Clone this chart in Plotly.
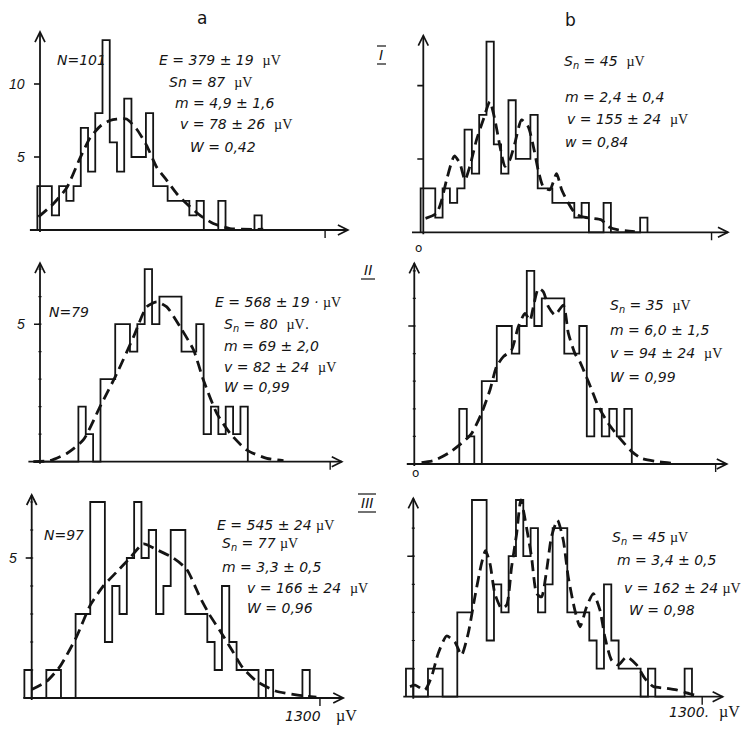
import plotly.graph_objects as go

WIN_W, WIN_H = 749, 731
OFF = 8  # default page margin of the html body
W, H = WIN_W - OFF, WIN_H - OFF

# ---------------- data ----------------
BIN_WIDTH_UV = 33  # histogram bin width, µV

# histograms (same record shown in column a and column b of each row)
row1_bin_start = -12
row1_counts = [3, 3, 1, 3, 2, 3, 7, 4, 8, 13, 6, 4, 9, 5, 5, 8, 3, 3, 2, 2, 2, 1, 2, 0, 0, 2, 0, 0, 0, 0, 1]
row2_bin_start = -26
row2_counts = [0, 0, 0, 0, 0, 0, 2, 1, 0, 3, 3, 5, 5, 4, 5, 7, 5, 6, 6, 6, 4, 4, 5, 1, 2, 1, 2, 1, 2]
row3_bin_start = -33
row3_counts = [1, 0, 0, 1, 1, 0, 0, 3, 3, 7, 7, 2, 4, 3, 5, 7, 5, 6, 3, 4, 6, 6, 3, 3, 3, 2, 1, 4, 2, 1,
               1, 1, 0, 1, 0, 0, 0, 0, 1]

# fitted curves, column a
curve_a1_x = [-7, 61, 122, 182, 228, 274, 319, 350, 395, 441, 486, 532, 578, 623, 669, 730, 790, 866, 1018]
curve_a1_y = [0.9, 1.8, 2.9, 4.9, 6.3, 7.1, 7.5, 7.6, 7.6, 6.9, 5.8, 4.3, 3.4, 2.5, 1.8, 1.0, 0.45, 0.1, 0.05]
curve_a2_x = [-30, 45, 120, 194, 269, 344, 419, 478, 523, 568, 628, 688, 732, 792, 852, 927, 1016, 1091]
curve_a2_y = [0, 0.04, 0.3, 0.79, 2.0, 3.2, 4.54, 5.63, 5.81, 5.63, 4.9, 4.06, 2.97, 1.76, 1.03, 0.42, 0.12, 0.04]
curve_a3_x = [0, 68, 128, 203, 263, 323, 383, 443, 503, 563, 638, 699, 759, 800, 849, 900, 950, 1014, 1100, 1200, 1284]
curve_a3_y = [0.3, 0.6, 1.13, 2.2, 3.3, 4.0, 4.5, 5.0, 5.5, 5.3, 5.0, 4.6, 3.6, 3.0, 2.4, 1.75, 1.1, 0.6, 0.25, 0.1, 0.03]

# fitted curves, column b
curve_b1_x = [10, 60, 83, 105, 140, 165, 188, 210, 240, 270, 300, 323, 346, 368, 390, 413, 443, 473, 500, 518,
              541, 571, 601, 624, 654, 684, 714, 759, 804, 834, 879, 954]
curve_b1_y = [0.95, 1.3, 2.2, 3.57, 5.2, 4.7, 3.57, 4.5, 6.3, 7.66, 8.9, 7.66, 5.84, 4.5, 4.93, 6.07, 7.66, 7.2, 5.6, 4.25,
              3.1, 2.9, 4.0, 2.9, 2.0, 1.3, 1.07, 0.95, 0.84, 0.39, 0.16, 0.05]
curve_b2_x = [6, 65, 124, 182, 226, 270, 307, 336, 366, 402, 432, 461, 483, 498, 520, 542, 564, 593, 630, 652,
              681, 703, 725, 755, 784, 828, 872, 931, 975, 1048, 1121]
curve_b2_y = [0.05, 0.14, 0.39, 0.75, 1.1, 1.84, 2.68, 3.53, 3.89, 4.13, 4.98, 5.46, 5.2, 5.7, 6.36, 6.24, 5.7, 5.4, 5.76, 4.73,
              4.0, 3.7, 3.28, 2.68, 2.08, 1.47, 0.99, 0.45, 0.2, 0.08, 0.02]
curve_b3_x = [-15, 8, 52, 82, 112, 150, 187, 217, 247, 277, 307, 325, 345, 367, 397, 420, 442, 465, 484, 510,
              532, 555, 577, 600, 622, 649, 675, 697, 727, 750, 780, 810, 840, 862, 892, 922, 960, 1005, 1042, 1080,
              1140, 1185, 1245, 1290]
curve_b3_y = [0.36, 0.41, 0.24, 0.71, 1.54, 2.16, 1.95, 1.48, 2.25, 3.55, 4.74, 5.2, 4.74, 3.67, 3.14, 3.26, 4.6, 5.8, 7.0, 6.0,
              4.98, 3.67, 3.55, 4.5, 5.7, 6.28, 5.57, 4.27, 3.08, 2.49, 3.2, 3.67, 3.08, 2.13, 1.3, 1.13, 1.42, 1.13, 0.65, 0.36,
              0.3, 0.24, 0.1, 0.02]

row1_y_ticks = [10, 5]
row1_y_labels = ["10", "5"]
row23_y_ticks = [5]
row23_y_labels = ["5"]
x_end_tick = 1300

MU = '<span style="font-family:Liberation Serif">µV</span>'

# text blocks (text, px x, px y) in window pixels
stats_texts = [
    ("<i>N=101</i>", 55, 60),
    (f"<i>E = 379 ± 19</i>  {MU}", 157, 60),
    (f"<i>Sn = 87</i>  {MU}", 167, 82),
    ("<i>m = 4,9 ± 1,6</i>", 173, 103),
    (f"<i>v = 78 ± 26</i>  {MU}", 178, 124),
    ("<i>W = 0,42</i>", 188, 147),
    (f"<i>S<sub>n</sub> = 45</i>  {MU}", 562, 62),
    ("<i>m = 2,4 ± 0,4</i>", 563, 97),
    (f"<i>v = 155 ± 24</i>  {MU}", 565, 119),
    ("<i>w = 0,84</i>", 563, 142),
    ("<i>N=79</i>", 47, 312),
    (f"<i>E = 568 ± 19 ·</i> {MU}", 213, 302),
    (f"<i>S<sub>n</sub> = 80</i>  {MU}.", 222, 325),
    ("<i>m = 69 ± 2,0</i>", 222, 346),
    (f"<i>v = 82 ± 24</i>  {MU}", 222, 367),
    ("<i>W = 0,99</i>", 222, 387),
    (f"<i>S<sub>n</sub> = 35</i>  {MU}", 608, 306),
    ("<i>m = 6,0 ± 1,5</i>", 608, 330),
    (f"<i>v = 94 ± 24</i>  {MU}", 608, 353),
    ("<i>W = 0,99</i>", 608, 377),
    ("<i>N=97</i>", 42, 535),
    (f"<i>E = 545 ± 24</i> {MU}", 215, 525),
    (f"<i>S<sub>n</sub> = 77</i> {MU}", 220, 544),
    ("<i>m = 3,3 ± 0,5</i>", 220, 567),
    (f"<i>v = 166 ± 24</i>  {MU}", 245, 588),
    ("<i>W = 0,96</i>", 245, 608),
    (f"<i>S<sub>n</sub> = 45</i> {MU}", 610, 538),
    ("<i>m = 3,4 ± 0,5</i>", 615, 560),
    (f"<i>v = 162 ± 24</i> {MU}", 622, 588),
    ("<i>W = 0,98</i>", 627, 610),
]
other_texts = [
    ("a", 202, 18, 17),
    ("b", 570, 20, 17),
    ("<i>I</i>", 381, 55, 14),
    ("<i>II</i>", 368, 270, 14),
    ("<i>III</i>", 367, 503, 14),
    ("o", 418, 248, 12),
    ("o", 415, 473, 12),
    ("<i>1300</i>", 303, 716, 14),
    (MU, 346, 716, 16),
    ("<i>1300.</i>", 689, 712, 14),
    (MU, 729, 712, 16),
]
# bars above / below the roman row numerals (x0, x1, y) in window pixels
numeral_bars = [(377, 386, 46), (377, 386, 64), (361, 375, 279), (358, 376, 494), (358, 376, 512)]

# ---------------- layout geometry (window pixels) ----------------
panels = [
    dict(ox=40.0, oy=230.0, upp=4.56, ppc=14.6, ytop=13.56, xl=-46, xr=1404, yx=0, row=1, col="a"),
    dict(ox=423.3, oy=232.3, upp=4.51, ppc=14.67, ytop=13.4, xl=-51, xr=1374, yx=0, row=1, col="b"),
    dict(ox=40.0, oy=461.7, upp=4.48, ppc=27.5, ytop=7.22, xl=-52, xr=1352, yx=0, row=2, col="a"),
    dict(ox=420.2, oy=464.0, upp=4.4, ppc=27.6, ytop=7.27, xl=-59, xr=1349, yx=-26, row=2, col="b"),
    dict(ox=31.7, oy=698.0, upp=4.51, ppc=28.0, ytop=7.25, xl=-38, xr=1405, yx=0, row=3, col="a"),
    dict(ox=413.3, oy=696.7, upp=4.5, ppc=28.1, ytop=7.06, xl=-45, xr=1392, yx=0, row=3, col="b"),
]

hist_data = {1: (row1_bin_start, row1_counts), 2: (row2_bin_start, row2_counts), 3: (row3_bin_start, row3_counts)}
curve_data = {
    (1, "a"): (curve_a1_x, curve_a1_y), (1, "b"): (curve_b1_x, curve_b1_y),
    (2, "a"): (curve_a2_x, curve_a2_y), (2, "b"): (curve_b2_x, curve_b2_y),
    (3, "a"): (curve_a3_x, curve_a3_y), (3, "b"): (curve_b3_x, curve_b3_y),
}

INK = "#141414"
FONT = "Liberation Sans, Arial, sans-serif"
STAT_FONT = "DejaVu Sans, Liberation Sans, sans-serif"


def px_x(px):
    return (px - OFF) / W


def px_y(py):
    return 1 - (py - OFF) / H


fig = go.Figure()
layout = dict(
    width=W, height=H, autosize=False,
    margin=dict(l=0, r=0, t=0, b=0),
    paper_bgcolor="white", plot_bgcolor="rgba(0,0,0,0)",
    showlegend=False,
    font=dict(family=FONT, color=INK, size=15),
)
annotations = []
shapes = []

for i, p in enumerate(panels, start=1):
    xa = "x" if i == 1 else f"x{i}"
    ya = "y" if i == 1 else f"y{i}"
    L = max(OFF, p["ox"] - 36)
    R = min(WIN_W, p["ox"] + 330)
    T = max(OFF, p["oy"] - 222)
    B = min(WIN_H, p["oy"] + 18)
    xr = [(L - p["ox"]) * p["upp"], (R - p["ox"]) * p["upp"]]
    yr = [(p["oy"] - B) / p["ppc"], (p["oy"] - T) / p["ppc"]]
    axkey = "xaxis" if i == 1 else f"xaxis{i}"
    aykey = "yaxis" if i == 1 else f"yaxis{i}"
    layout[axkey] = dict(domain=[px_x(L), px_x(R)], range=xr, visible=False, anchor=ya, fixedrange=True)
    layout[aykey] = dict(domain=[px_y(B), px_y(T)], range=yr, visible=False, anchor=xa, fixedrange=True)

    # axes lines
    shapes.append(dict(type="line", xref=xa, yref=ya, x0=p["xl"], x1=p["xr"], y0=0, y1=0,
                       line=dict(color=INK, width=1.8)))
    shapes.append(dict(type="line", xref=xa, yref=ya, x0=p["yx"], x1=p["yx"], y0=-2 / p["ppc"], y1=p["ytop"],
                       line=dict(color=INK, width=1.8)))
    # open arrow heads (chevrons) at the axis tips
    tx, ty = p["ox"] + p["xr"] / p["upp"], p["oy"]
    shapes.append(dict(type="path", xref="paper", yref="paper",
                       path=f"M{px_x(tx - 10)},{px_y(ty - 5)} L{px_x(tx)},{px_y(ty)} L{px_x(tx - 10)},{px_y(ty + 5)}",
                       line=dict(color=INK, width=1.7)))
    tx, ty = p["ox"] + p["yx"] / p["upp"], p["oy"] - p["ytop"] * p["ppc"]
    shapes.append(dict(type="path", xref="paper", yref="paper",
                       path=f"M{px_x(tx - 5)},{px_y(ty + 10)} L{px_x(tx)},{px_y(ty)} L{px_x(tx + 5)},{px_y(ty + 10)}",
                       line=dict(color=INK, width=1.7)))

    # histogram as a step outline
    start, counts = hist_data[p["row"]]
    edges = [start + BIN_WIDTH_UV * k for k in range(len(counts) + 1)]
    hx = [edges[0]] + edges[:-1] + [edges[-1]]
    hy = [0] + list(counts) + [0]
    fig.add_trace(go.Scatter(x=hx, y=hy, mode="lines", line=dict(color=INK, width=1.8, shape="hv"),
                             xaxis=xa, yaxis=ya, hoverinfo="skip", cliponaxis=False))
    cx, cy = curve_data[(p["row"], p["col"])]
    fig.add_trace(go.Scatter(x=cx, y=cy, mode="lines",
                             line=dict(color=INK, width=2.8, dash="11px,6px", shape="spline", smoothing=0.6),
                             xaxis=xa, yaxis=ya, hoverinfo="skip", cliponaxis=False))

    # x end tick
    shapes.append(dict(type="line", xref=xa, yref=ya, x0=x_end_tick, x1=x_end_tick, y0=0,
                       y1=-8 / p["ppc"], line=dict(color=INK, width=1.4)))
    # y ticks
    yt = row1_y_ticks if p["row"] == 1 else row23_y_ticks
    for v in yt:
        shapes.append(dict(type="line", xref=xa, yref=ya, x0=p["yx"] - 6 * p["upp"], x1=p["yx"],
                           y0=v, y1=v, line=dict(color=INK, width=1.6)))
    if p["row"] > 1:
        for v in range(1, int(p["ytop"]) + 1):
            shapes.append(dict(type="line", xref=xa, yref=ya, x0=p["yx"] - 1.5 * p["upp"],
                               x1=p["yx"] + 1.5 * p["upp"], y0=v, y1=v, line=dict(color=INK, width=1.2)))
    if p["col"] == "a":
        labels = row1_y_labels if p["row"] == 1 else row23_y_labels
        for v, lab in zip(yt, labels):
            annotations.append(dict(x=p["yx"] - 13 * p["upp"], y=v, xref=xa, yref=ya, text=f"<i>{lab}</i>",
                                    showarrow=False, xanchor="right", yanchor="middle",
                                    font=dict(size=14, color=INK, family=FONT)))

for x0, x1, yb in numeral_bars:
    shapes.append(dict(type="line", xref="paper", yref="paper", x0=px_x(x0), x1=px_x(x1),
                       y0=px_y(yb), y1=px_y(yb), line=dict(color=INK, width=1.2)))

for txt, px, py in stats_texts:
    annotations.append(dict(x=px_x(px), y=px_y(py), xref="paper", yref="paper", text=txt,
                            showarrow=False, xanchor="left", yanchor="middle",
                            font=dict(size=14, color=INK, family=STAT_FONT)))
for txt, px, py, sz in other_texts:
    annotations.append(dict(x=px_x(px), y=px_y(py), xref="paper", yref="paper", text=txt,
                            showarrow=False, xanchor="center", yanchor="middle",
                            font=dict(size=sz, color=INK, family=STAT_FONT)))

layout["annotations"] = annotations
layout["shapes"] = shapes
fig.update_layout(**layout)
fig.write_html("out.html")
